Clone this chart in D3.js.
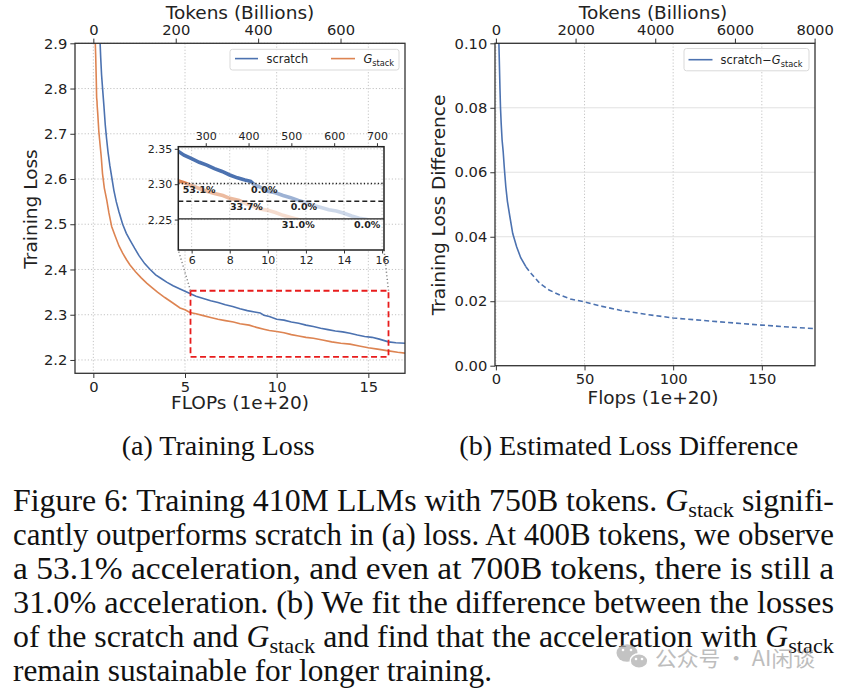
<!DOCTYPE html>
<html><head><meta charset="utf-8">
<script src="https://cdn.jsdelivr.net/npm/d3@7/dist/d3.min.js"></script>
<style>
body{margin:0;background:#fff;}
svg{display:block;}
text{font-family:"DejaVu Sans",sans-serif;fill:#222;}
</style></head><body>
<svg id="chart" width="843" height="692"></svg>
<script>
// ================= DATA =================
const scratchFlops = [0.36,0.40,0.45,0.51,0.58,0.65,0.72,0.80,0.90,1.00,1.12,1.25,1.40,1.60,1.80,2.00,2.25,2.50,2.80,3.10,3.40,3.70,4.00,4.35,4.73,5.00,5.27,5.60,6.00,6.40,6.80,7.20,7.60,8.00,8.40,8.80,9.10,9.30,9.60,10.00,10.40,10.80,11.20,11.60,12.00,12.40,12.80,13.20,13.60,14.00,14.40,14.80,15.20,15.60,16.10,16.50,17.00];
const scratchLoss  = [2.910,2.870,2.830,2.797,2.760,2.720,2.690,2.660,2.630,2.605,2.575,2.550,2.527,2.500,2.480,2.465,2.447,2.430,2.413,2.400,2.388,2.380,2.372,2.364,2.357,2.352,2.347,2.341,2.336,2.331,2.327,2.322,2.318,2.313,2.309,2.306,2.304,2.299,2.296,2.290,2.288,2.284,2.281,2.277,2.274,2.270,2.267,2.264,2.262,2.259,2.255,2.252,2.250,2.246,2.240,2.238,2.237];
const gstackFlops  = [0.10,0.13,0.16,0.18,0.20,0.21,0.24,0.30,0.36,0.43,0.50,0.60,0.73,0.85,1.00,1.18,1.40,1.60,1.82,2.00,2.30,2.60,2.91,3.20,3.50,3.90,4.30,4.73,5.00,5.27,5.60,6.00,6.40,6.80,7.20,7.64,8.00,8.50,8.90,9.30,9.60,10.00,10.40,10.80,11.20,11.60,12.00,12.50,13.00,13.50,14.00,14.50,15.00,15.50,16.10,16.60,17.00];
const gstackLoss   = [2.910,2.870,2.820,2.780,2.772,2.762,2.745,2.705,2.679,2.650,2.612,2.580,2.554,2.525,2.495,2.475,2.452,2.436,2.421,2.410,2.395,2.382,2.370,2.360,2.350,2.338,2.327,2.315,2.311,2.305,2.302,2.298,2.294,2.290,2.287,2.284,2.280,2.277,2.272,2.268,2.265,2.263,2.260,2.256,2.253,2.250,2.248,2.244,2.240,2.237,2.235,2.231,2.227,2.224,2.220,2.217,2.215];
const diffFlops    = [1.7,2.0,2.3,2.6,3.0,3.5,4.1,4.8,5.6,6.5,7.9,9.5,11.7,14.0,16.9];
const diffValues   = [0.100,0.093,0.086,0.080,0.075,0.070,0.0665,0.061,0.0555,0.051,0.0462,0.041,0.0369,0.0335,0.0307];
const fitFlops     = [16.9,20,24.8,30,36.1,42,49.8,60,70,85,100,113,126.4,138,150,165,180];
const fitValues    = [0.0307,0.0285,0.0255,0.0235,0.0219,0.0207,0.0198,0.0184,0.0172,0.0159,0.0148,0.0142,0.0136,0.0131,0.0126,0.0120,0.0115];

const lossTicks      = [2.2,2.3,2.4,2.5,2.6,2.7,2.8,2.9];
const flopTicksA     = [0,5,10,15];
const tokenTicksA    = [0,200,400,600];
const zoomFlopTicks  = [6,8,10,12,14,16];
const zoomTokenTicks = [300,400,500,600,700];
const zoomLossTicks  = [2.25,2.30,2.35];
const diffTicks      = [0,0.02,0.04,0.06,0.08,0.10];
const flopTicksB     = [0,50,100,150];
const tokenTicksB    = [0,2000,4000,6000,8000];
const tokensPerFlop  = 44.5;

const zoomFlopRange  = [5.3,16.1];
const zoomLossRange  = [2.207,2.353];
const targetLevels   = [2.301,2.276,2.251];
const accelLabels    = ["53.1%","0.0%","33.7%","0.0%","31.0%","0.0%"];
const accelFlops     = [5.53,9.12,8.01,11.2,10.73,14.52];
const accelLevelIdx  = [0,0,1,1,2,2];

const subcaptions = ["(a) Training Loss","(b) Estimated Loss Difference"];
const captionLines = [
 [["Figure 6: Training 410M LLMs with 750B tokens. ",""],["G","i"],["stack","s"],[" signifi-",""]],
 [["cantly outperforms scratch in (a) loss. At 400B tokens, we observe",""]],
 [["a 53.1% acceleration, and even at 700B tokens, there is still a",""]],
 [["31.0% acceleration. (b) We fit the difference between the losses",""]],
 [["of the scratch and ",""],["G","i"],["stack","s"],[" and find that the acceleration with ",""],["G","i"],["stack","s"]],
 [["remain sustainable for longer training.",""]]
];
const watermark = "公众号 · AI闲谈";

// ================= LAYOUT =================
const BLUE="#4C72B0", ORANGE="#DD8452";
const svg=d3.select("#chart");
const A={x0:75,x1:405,y0:43.3,y1:373.3};
const I={x0:178.3,x1:384,y0:146.7,y1:250};
const B={x0:495,x1:815,y0:43.3,y1:365.7};

const xA=d3.scaleLinear([-1,17],[A.x0,A.x1]);
const yA=d3.scaleLinear([2.1705,2.9],[A.y1,A.y0]);
const tA=d3.scaleLinear([-1*tokensPerFlop,17*tokensPerFlop],[A.x0,A.x1]);
const xI=d3.scaleLinear(zoomFlopRange,[I.x0,I.x1]);
const yI=d3.scaleLinear(zoomLossRange,[I.y1,I.y0]);
const tI=d3.scaleLinear(zoomFlopRange.map(d=>d*tokensPerFlop),[I.x0,I.x1]);
const xB=d3.scaleLinear([-0.5,180],[B.x0,B.x1]);
const yB=d3.scaleLinear([0,0.1],[B.y1,B.y0]);
const tB=d3.scaleLinear([-0.5*tokensPerFlop,180*tokensPerFlop],[B.x0,B.x1]);

const defs=svg.append("defs");
function clip(id,x,y,w,h){defs.append("clipPath").attr("id",id).append("rect").attr("x",x).attr("y",y).attr("width",w).attr("height",h);}
clip("clipA",A.x0,A.y0,A.x1-A.x0,A.y1-A.y0);
clip("clipB",B.x0,B.y0,B.x1-B.x0,B.y1-B.y0);

function zipXY(xs,ys){return xs.map((x,i)=>[x,ys[i]]);}
const scratch=zipXY(scratchFlops,scratchLoss), gstack=zipXY(gstackFlops,gstackLoss);
const diffPts=zipXY(diffFlops,diffValues), fitPts=zipXY(fitFlops,fitValues);

function gridV(g,sc,ticks,y0,y1,dash,col){g.selectAll(null).data(ticks).join("line").attr("x1",d=>sc(d)).attr("x2",d=>sc(d)).attr("y1",y0).attr("y2",y1).attr("stroke",col).attr("stroke-width",0.9).attr("stroke-dasharray",dash);}
function gridH(g,sc,ticks,x0,x1,dash,col){g.selectAll(null).data(ticks).join("line").attr("y1",d=>sc(d)).attr("y2",d=>sc(d)).attr("x1",x0).attr("x2",x1).attr("stroke",col).attr("stroke-width",0.9).attr("stroke-dasharray",dash);}
function styleAxis(g,fs){g.select(".domain").remove();g.selectAll(".tick line").attr("stroke","#333").attr("stroke-width",1);g.selectAll(".tick text").attr("font-size",fs).style("fill","#222").style("font-family","'DejaVu Sans',sans-serif");}
function frame(r,w,col){svg.append("rect").attr("x",r.x0).attr("y",r.y0).attr("width",r.x1-r.x0).attr("height",r.y1-r.y0).attr("fill","none").attr("stroke",col).attr("stroke-width",w);}

// ================= PANEL A =================
const gA=svg.append("g");
gridV(gA,xA,flopTicksA,A.y0,A.y1,"1.2,2","#bdbdbd");
gridH(gA,yA,lossTicks,A.x0,A.x1,"1.2,2","#bdbdbd");
const lineA=d3.line().x(d=>xA(d[0])).y(d=>yA(d[1]));
const cA=gA.append("g").attr("clip-path","url(#clipA)");
cA.append("path").datum(scratch).attr("d",lineA).attr("fill","none").attr("stroke",BLUE).attr("stroke-width",1.6);
cA.append("path").datum(gstack).attr("d",lineA).attr("fill","none").attr("stroke",ORANGE).attr("stroke-width",1.6);

// red zoom box
gA.append("rect").attr("x",xA(zoomFlopRange[0])).attr("y",yA(zoomLossRange[1]))
  .attr("width",xA(zoomFlopRange[1])-xA(zoomFlopRange[0])).attr("height",yA(zoomLossRange[0])-yA(zoomLossRange[1]))
  .attr("fill","none").attr("stroke","#e81c1c").attr("stroke-width",1.8).attr("stroke-dasharray","6,3.5");
// connectors
[[zoomFlopRange[0],I.x0],[zoomFlopRange[1],I.x1]].forEach(([f,ix])=>{
  gA.append("line").attr("x1",xA(f)).attr("y1",yA(zoomLossRange[1])).attr("x2",ix).attr("y2",I.y1)
   .attr("stroke","#888").attr("stroke-width",1.5).attr("stroke-dasharray","1.2,2.4");
});

// ---- inset ----
const gI=svg.append("g");
gI.append("rect").attr("x",I.x0).attr("y",I.y0).attr("width",I.x1-I.x0).attr("height",I.y1-I.y0).attr("fill","#fff");
gridV(gI,xI,zoomFlopTicks,I.y0,I.y1,"1.2,2","#c4c4c4");
gridH(gI,yI,zoomLossTicks,I.x0,I.x1,"1.2,2","#c4c4c4");
const bandEdges=[I.y0,yI(targetLevels[0]),yI(targetLevels[1]),yI(targetLevels[2])];
const bandAlpha=[1,0.55,0.28];
const lineI=d3.line().x(d=>xI(d[0])).y(d=>yI(d[1]));
bandAlpha.forEach((a,k)=>{
  clip("band"+k,I.x0,bandEdges[k],I.x1-I.x0,bandEdges[k+1]-bandEdges[k]);
  const g=gI.append("g").attr("clip-path","url(#band"+k+")");
  g.append("path").datum(scratch).attr("d",lineI).attr("fill","none").attr("stroke",BLUE).attr("stroke-width",3.6).attr("stroke-opacity",a);
  g.append("path").datum(gstack).attr("d",lineI).attr("fill","none").attr("stroke",ORANGE).attr("stroke-width",3.6).attr("stroke-opacity",a);
});
const levelDash=["1.3,2.2","5,3",null];
targetLevels.forEach((lv,k)=>{
  gI.append("line").attr("x1",I.x0).attr("x2",I.x1).attr("y1",yI(lv)).attr("y2",yI(lv))
   .attr("stroke","#222").attr("stroke-width",1.4).attr("stroke-dasharray",levelDash[k]);
});
accelLabels.forEach((t,k)=>{
  gI.append("text").attr("x",xI(accelFlops[k])).attr("y",yI(targetLevels[accelLevelIdx[k]])+9.3)
   .attr("font-size",9.5).attr("font-weight","bold").text(t);
});
frame(I,1.5,"#222");
svg.append("g").attr("transform",`translate(0,${I.y1})`).call(d3.axisBottom(xI).tickValues(zoomFlopTicks).tickSize(3.5).tickPadding(2.5).tickFormat(d3.format("d"))).call(g=>styleAxis(g,11));
svg.append("g").attr("transform",`translate(0,${I.y0})`).call(d3.axisTop(tI).tickValues(zoomTokenTicks).tickSize(3.5).tickPadding(3).tickFormat(d3.format("d"))).call(g=>styleAxis(g,11));
svg.append("g").attr("transform",`translate(${I.x0},0)`).call(d3.axisLeft(yI).tickValues(zoomLossTicks).tickSize(3.5).tickPadding(2.5).tickFormat(d3.format(".2f"))).call(g=>styleAxis(g,11));

// legend A
function legendBox(x,y,w,h){svg.append("rect").attr("x",x).attr("y",y).attr("width",w).attr("height",h).attr("rx",2.5).attr("fill","#fff").attr("fill-opacity",0.85).attr("stroke","#d9d9d9").attr("stroke-width",1);}
function gText(sel,pre){
  const t=sel; if(pre) t.append("tspan").text(pre);
  t.append("tspan").attr("font-style","italic").text("G");
  t.append("tspan").attr("font-size",8.2).attr("dy",3).text("stack");
}
legendBox(230,49.3,169,20.7);
svg.append("line").attr("x1",235).attr("x2",258).attr("y1",58.6).attr("y2",58.6).attr("stroke",BLUE).attr("stroke-width",1.6);
svg.append("text").attr("x",266.5).attr("y",62.8).attr("font-size",11.4).text("scratch");
svg.append("line").attr("x1",331).attr("x2",355).attr("y1",58.6).attr("y2",58.6).attr("stroke",ORANGE).attr("stroke-width",1.6);
gText(svg.append("text").attr("x",363.5).attr("y",62.8).attr("font-size",11.4));

frame(A,1.3,"#333");
svg.append("g").attr("transform",`translate(0,${A.y1})`).call(d3.axisBottom(xA).tickValues(flopTicksA).tickSize(4.7).tickPadding(3.5).tickFormat(d3.format("d"))).call(g=>styleAxis(g,14.7));
svg.append("g").attr("transform",`translate(0,${A.y0})`).call(d3.axisTop(tA).tickValues(tokenTicksA).tickSize(4.7).tickPadding(3.8).tickFormat(d3.format("d"))).call(g=>styleAxis(g,14.7));
svg.append("g").attr("transform",`translate(${A.x0},0)`).call(d3.axisLeft(yA).tickValues(lossTicks).tickSize(4.7).tickPadding(3).tickFormat(d3.format(".1f"))).call(g=>styleAxis(g,14.7));
svg.append("text").attr("x",240).attr("y",409).attr("text-anchor","middle").attr("font-size",18.5).text("FLOPs (1e+20)");
svg.append("text").attr("x",240).attr("y",18.5).attr("text-anchor","middle").attr("font-size",18.5).text("Tokens (Billions)");
svg.append("text").attr("transform","translate(36.5,209) rotate(-90)").attr("text-anchor","middle").attr("font-size",18.5).text("Training Loss");

// ================= PANEL B =================
const gB=svg.append("g");
gridV(gB,xB,flopTicksB,B.y0,B.y1,"1.2,2","#bdbdbd");
gridH(gB,yB,diffTicks,B.x0,B.x1,null,"#dedede");
const lineB=d3.line().x(d=>xB(d[0])).y(d=>yB(d[1]));
const cB=gB.append("g").attr("clip-path","url(#clipB)");
cB.append("path").datum(diffPts).attr("d",lineB).attr("fill","none").attr("stroke",BLUE).attr("stroke-width",1.6);
cB.append("path").datum(fitPts).attr("d",lineB).attr("fill","none").attr("stroke",BLUE).attr("stroke-width",1.6).attr("stroke-dasharray","5,3");

legendBox(684,48.5,125,22.3);
svg.append("line").attr("x1",688.5).attr("x2",712.5).attr("y1",59.7).attr("y2",59.7).attr("stroke",BLUE).attr("stroke-width",1.6);
gText(svg.append("text").attr("x",720.5).attr("y",63.9).attr("font-size",11.4),"scratch\u2212");

frame(B,1.3,"#333");
svg.append("g").attr("transform",`translate(0,${B.y1})`).call(d3.axisBottom(xB).tickValues(flopTicksB).tickSize(4.7).tickPadding(3.5).tickFormat(d3.format("d"))).call(g=>styleAxis(g,14.7));
svg.append("g").attr("transform",`translate(0,${B.y0})`).call(d3.axisTop(tB).tickValues(tokenTicksB).tickSize(4.7).tickPadding(3.8).tickFormat(d3.format("d"))).call(g=>styleAxis(g,14.7));
svg.append("g").attr("transform",`translate(${B.x0},0)`).call(d3.axisLeft(yB).tickValues(diffTicks).tickSize(4.7).tickPadding(3).tickFormat(d3.format(".2f"))).call(g=>styleAxis(g,14.7));
svg.append("text").attr("x",653).attr("y",404).attr("text-anchor","middle").attr("font-size",18.5).text("Flops (1e+20)");
svg.append("text").attr("x",653).attr("y",18.5).attr("text-anchor","middle").attr("font-size",18.5).text("Tokens (Billions)");
svg.append("text").attr("transform","translate(445,205) rotate(-90)").attr("text-anchor","middle").attr("font-size",18.5).text("Training Loss Difference");

// ================= CAPTIONS =================
const serif='"Liberation Serif","Times New Roman",serif';
const subX=[121.7,459.3], subW=[193,339];
subcaptions.forEach((s,i)=>{
  svg.append("text").attr("x",subX[i]).attr("y",455).style("font-family",serif).attr("font-size",27.5).style("fill","#111")
    .attr("textLength",subW[i]).attr("lengthAdjust","spacingAndGlyphs").text(s);
});
const capBase=[511,545.2,579.4,613.4,647.4,681.3];
const capW=[821,821,821,821,821,479];
const capFS=30.5;
captionLines.forEach((parts,i)=>{
  const t=svg.append("text").attr("x",13).attr("y",capBase[i]).style("font-family",serif).attr("font-size",capFS).style("fill","#111")
    .attr("textLength",capW[i]).attr("lengthAdjust","spacingAndGlyphs");
  let shifted=false;
  parts.forEach(([s,k])=>{
    const ts=t.append("tspan").text(s);
    if(k==="i"){ts.style("font-style","italic"); if(shifted){ts.attr("dy",-6);shifted=false;}}
    else if(k==="s"){ts.attr("font-size",capFS*0.7).attr("dy",6);shifted=true;}
    else if(shifted){ts.attr("dy",-6);shifted=false;}
  });
});

// watermark
const wm=svg.append("g").attr("opacity",0.75);
wm.append("ellipse").attr("cx",627).attr("cy",653).attr("rx",10.5).attr("ry",8.8).attr("fill","#b0b0b0");
wm.append("ellipse").attr("cx",639).attr("cy",661).attr("rx",8.8).attr("ry",7.3).attr("fill","#b0b0b0").attr("stroke","#fff").attr("stroke-width",1.4);
[[623,650],[631,650],[636,659],[642,659]].forEach(p=>wm.append("circle").attr("cx",p[0]).attr("cy",p[1]).attr("r",1.3).attr("fill","#fff"));
wm.append("text").attr("x",655).attr("y",666).style("font-family","'Noto Sans CJK SC',sans-serif").attr("font-size",21).style("fill","#a8a8a8")
  .attr("textLength",160).attr("lengthAdjust","spacingAndGlyphs").text(watermark);
</script></body></html>
